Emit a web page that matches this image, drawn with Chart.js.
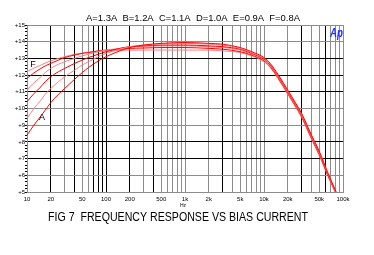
<!DOCTYPE html>
<html><head><meta charset="utf-8">
<script src="https://cdn.jsdelivr.net/npm/chart.js@4"></script>
<style>html,body{margin:0;padding:0;background:#fff;} canvas{display:block}</style>
</head><body>
<canvas id="c" width="374" height="255"></canvas>
<script>
// ---------- data ----------
const frequencies = [10, 12, 15, 17, 20, 25, 30, 40, 50, 60, 80, 100, 150, 200, 300, 500, 1000, 2000, 3000, 5000, 7000, 10000, 12000, 15000, 20000, 25000, 30000, 40000, 50000, 65000, 82000];
const seriesA = [8.4, 8.95, 9.55, 9.9, 10.35, 10.85, 11.2, 11.75, 12.15, 12.45, 12.85, 13.1, 13.45, 13.65, 13.8, 13.9, 13.95, 13.9, 13.85, 13.65, 13.4, 13.05, 12.7, 12.05, 11.1, 10.35, 9.7, 8.4, 7.45, 6.1, 5.0];
const seriesB = [9.4, 9.95, 10.5, 10.85, 11.2, 11.6, 11.9, 12.3, 12.6, 12.8, 13.1, 13.3, 13.55, 13.7, 13.8, 13.85, 13.9, 13.85, 13.8, 13.6, 13.35, 13.0, 12.65, 12.0, 11.05, 10.3, 9.65, 8.35, 7.4, 6.05, 4.95];
const seriesC = [10.4, 10.85, 11.3, 11.6, 11.9, 12.2, 12.4, 12.7, 12.9, 13.05, 13.25, 13.4, 13.6, 13.7, 13.75, 13.8, 13.8, 13.75, 13.7, 13.55, 13.3, 12.95, 12.6, 11.95, 11.0, 10.25, 9.6, 8.3, 7.35, 6.0, 4.95];
const seriesD = [11.1, 11.5, 11.9, 12.15, 12.4, 12.65, 12.8, 13.0, 13.15, 13.25, 13.4, 13.5, 13.6, 13.7, 13.72, 13.75, 13.75, 13.7, 13.65, 13.5, 13.25, 12.9, 12.55, 11.9, 10.95, 10.2, 9.55, 8.25, 7.3, 6.0, 4.9];
const seriesE = [11.8, 12.1, 12.4, 12.55, 12.7, 12.9, 13.05, 13.2, 13.3, 13.35, 13.45, 13.5, 13.55, 13.6, 13.62, 13.65, 13.65, 13.6, 13.55, 13.4, 13.2, 12.85, 12.5, 11.85, 10.9, 10.15, 9.5, 8.2, 7.25, 5.95, 4.9];
const seriesF = [12.2, 12.4, 12.6, 12.72, 12.85, 13.0, 13.1, 13.25, 13.32, 13.38, 13.43, 13.45, 13.48, 13.5, 13.5, 13.5, 13.5, 13.5, 13.45, 13.35, 13.15, 12.8, 12.45, 11.8, 10.85, 10.1, 9.45, 8.15, 7.2, 5.9, 4.85];
const seriesNames = ['A', 'B', 'C', 'D', 'E', 'F'];
const biasCurrents = ['1.3A', '1.2A', '1.1A', '1.0A', '0.9A', '0.8A'];
const xTickValues = [10, 20, 50, 100, 200, 500, 1000, 2000, 5000, 10000, 20000, 50000, 100000];
const xTickLabels = ['10', '20', '50', '100', '200', '500', '1k', '2k', '5k', '10k', '20k', '50k', '100k'];
const yTickValues = [15, 14, 13, 12, 11, 10, 9, 8, 7, 6, 5];
const yTickLabels = ['+15', '+14', '+13', '+12', '+11', '+10', '+9', '+8', '+7', '+6', '+5'];
const titleText = 'FIG 7  FREQUENCY RESPONSE VS BIAS CURRENT';
const xUnit = 'Hz';

// ---------- styling ----------
const allSeries = [seriesA, seriesB, seriesC, seriesD, seriesE, seriesF];
const RED = '#ff0000', PINK = '#ff7f7f';
const lineColors = [RED, PINK, RED, PINK, RED, PINK];
const GRAY = '#8c8c8c', BLACK = '#000000';
const blackX = [20, 40, 70, 80, 90, 100, 200, 400, 3000, 30000, 60000];
const blackY = [13, 12, 11, 8, 7];
const FONT = '"Liberation Sans", Arial, sans-serif';

const xGrid = [];
for (let d = 10; d < 100000; d *= 10) for (let m = 1; m < 10; m++) xGrid.push(m * d);
xGrid.push(100000);
const yMinor = [];
for (let i = 0; i <= 50; i++) yMinor.push(Math.round((15 - i * 0.2) * 10) / 10);

const datasets = allSeries.map((s, i) => ({
  label: seriesNames[i] + '=' + biasCurrents[i],
  data: frequencies.map((f, j) => ({ x: f, y: s[j] })),
  borderColor: lineColors[i],
  borderWidth: 1,
  pointRadius: 0,
  fill: false,
  cubicInterpolationMode: 'monotone'
}));

function drawScaledText(ctx, text, x, baseline, font, width, color, align) {
  ctx.save();
  ctx.font = font;
  ctx.fillStyle = color;
  ctx.textBaseline = 'alphabetic';
  ctx.textAlign = 'left';
  const w = ctx.measureText(text).width;
  const s = width ? width / w : 1;
  let x0 = x;
  if (align === 'center') x0 = x - (w * s) / 2;
  ctx.translate(x0, baseline);
  ctx.scale(s, 1);
  ctx.fillText(text, 0, 0);
  ctx.restore();
}

const textPlugin = {
  id: 'texts',
  afterDraw(chart) {
    const ctx = chart.ctx;
    const xs = chart.scales.x, ys = chart.scales.y;
    const header = seriesNames.map((n, i) => n + '=' + biasCurrents[i]).join('  ');
    drawScaledText(ctx, header, 86, 20.5, '8.5px ' + FONT, 214, '#000');
    drawScaledText(ctx, titleText, 48, 221, '12.5px ' + FONT, 260, '#000');
    drawScaledText(ctx, xUnit, 183, 207, '5px ' + FONT, null, '#000', 'center');
    drawScaledText(ctx, seriesNames[5], xs.getPixelForValue(12) - 3, ys.getPixelForValue(12.72) + 3.5, '9px ' + FONT, null, '#000');
    drawScaledText(ctx, seriesNames[0], xs.getPixelForValue(15.5) - 3, ys.getPixelForValue(9.5) + 3.5, '9px ' + FONT, null, '#000');
    drawScaledText(ctx, 'Ap', 330, 37, 'italic bold 12px ' + FONT, 13, '#1f2fff');
  }
};

new Chart(document.getElementById('c'), {
  type: 'line',
  data: { datasets },
  plugins: [textPlugin],
  options: {
    responsive: false,
    animation: false,
    devicePixelRatio: 1,
    layout: { padding: { left: 0, right: 31, top: 25, bottom: 0 } },
    plugins: { legend: { display: false }, title: { display: false }, tooltip: { enabled: false } },
    scales: {
      x: {
        type: 'logarithmic',
        min: 10, max: 100000,
        afterBuildTicks: (scale) => { scale.ticks = xGrid.map(v => ({ value: v })); },
        afterFit: (scale) => { scale.height = 63; },
        grid: {
          drawTicks: false,
          lineWidth: 1,
          color: (c) => (c.tick && blackX.includes(c.tick.value)) ? BLACK : GRAY
        },
        border: { display: true, color: GRAY, width: 1 },
        ticks: {
          autoSkip: false, maxRotation: 0, minRotation: 0, padding: 4,
          color: '#000', font: { size: 6, family: FONT },
          callback: (v) => { const k = xTickValues.indexOf(v); return k >= 0 ? xTickLabels[k] : ''; }
        }
      },
      y: {
        min: 5, max: 15,
        afterBuildTicks: (scale) => { scale.ticks = yMinor.map(v => ({ value: v })); },
        afterFit: (scale) => { scale.width = 27; },
        grid: {
          drawTicks: true, tickLength: 2, lineWidth: 1,
          tickColor: '#000',
          color: (c) => {
            if (!c.tick) return GRAY;
            const v = c.tick.value;
            if (Math.abs(v - Math.round(v)) > 1e-6) return 'rgba(0,0,0,0)';
            return blackY.includes(Math.round(v)) ? BLACK : GRAY;
          }
        },
        border: { display: true, color: GRAY, width: 1 },
        ticks: {
          autoSkip: false, padding: 0,
          color: '#000', font: { size: 6, family: FONT },
          callback: (v) => { const k = yTickValues.indexOf(Math.round(v * 10) / 10); return k >= 0 ? yTickLabels[k] : ''; }
        }
      }
    }
  }
});
</script>
</body></html>
